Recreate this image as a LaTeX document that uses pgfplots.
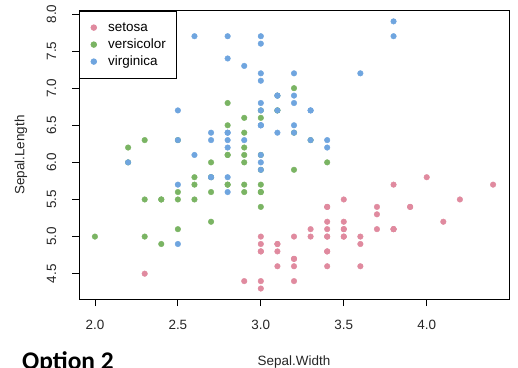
\documentclass[border=0pt]{standalone}
\usepackage{pgfplots}
\pgfplotsset{compat=1.18}
\usepackage{fontspec}
\setmainfont{Liberation Sans}
\newfontfamily\optfont{Carlito}
\definecolor{cset}{HTML}{E08A9F}
\definecolor{cver}{HTML}{7AB463}
\definecolor{cvir}{HTML}{6FA5DF}
\begin{document}
\begin{tikzpicture}[x=1bp,y=1bp]
\useasboundingbox (0,0) rectangle (518,367);
\clip (0,0) rectangle (518,367);
\fill[white] (0,0) rectangle (518,367);
\begin{axis}[
  at={(79bp,67.8bp)}, anchor=south west,
  scale only axis, width=430bp, height=288.5bp,
  xmin=1.904, xmax=4.496, ymin=4.156, ymax=8.044,
  axis line style={black, line width=0.8bp},
  xtick={2.0,2.5,3.0,3.5,4.0},
  ytick={4.5,5.0,5.5,6.0,6.5,7.0,7.5,8.0},
  xtick pos=left, ytick pos=left, tick align=outside,
  major tick length=7bp,
  tick style={black, line width=0.8bp},
  /pgf/number format/assume math mode=true,
  /pgf/number format/.cd, fixed, fixed zerofill, precision=1, /pgfplots/.cd,
  ticklabel style={font=\fontsize{13.5}{16}\selectfont, color=black!85},
  xticklabel style={anchor=base},
  xticklabel shift=23bp,
  yticklabel style={rotate=90, anchor=base},
  yticklabel shift=16bp,
  legend style={at={(0,1)}, anchor=north west, draw=black, line width=0.8bp,
    inner xsep=11bp, inner ysep=8bp, column sep=11bp,
    font=\fontsize{13.5}{16}\selectfont,
    nodes={inner sep=0pt, text height=12bp, text depth=5bp, anchor=west}},
  legend cell align=left,
  legend image code/.code={\path (0,0) rectangle (6bp,0); \fill (3bp,0) circle (2.8bp);},
]
\addplot[only marks, mark=*, mark size=2.8bp, color=cset, mark options={draw=none, fill=cset}] coordinates {
(3.5,5.1)(3.0,4.9)(3.2,4.7)(3.1,4.6)(3.6,5.0)(3.9,5.4)(3.4,4.6)(3.4,5.0)(2.9,4.4)(3.1,4.9)
(3.7,5.4)(3.4,4.8)(3.0,4.8)(3.0,4.3)(4.0,5.8)(4.4,5.7)(3.9,5.4)(3.5,5.1)(3.8,5.7)(3.8,5.1)
(3.4,5.4)(3.7,5.1)(3.6,4.6)(3.3,5.1)(3.4,4.8)(3.0,5.0)(3.4,5.0)(3.5,5.2)(3.4,5.2)(3.2,4.7)
(3.1,4.8)(3.4,5.4)(4.1,5.2)(4.2,5.5)(3.1,4.9)(3.2,5.0)(3.5,5.5)(3.6,4.9)(3.0,4.4)(3.4,5.1)
(3.5,5.0)(2.3,4.5)(3.2,4.4)(3.5,5.0)(3.8,5.1)(3.0,4.8)(3.8,5.1)(3.2,4.6)(3.7,5.3)(3.3,5.0)
};
\addlegendentry{setosa}
\addplot[only marks, mark=*, mark size=2.8bp, color=cver, mark options={draw=none, fill=cver}] coordinates {
(3.2,7.0)(3.2,6.4)(3.1,6.9)(2.3,5.5)(2.8,6.5)(2.8,5.7)(3.3,6.3)(2.4,4.9)(2.9,6.6)(2.7,5.2)
(2.0,5.0)(3.0,5.9)(2.2,6.0)(2.9,6.1)(2.9,5.6)(3.1,6.7)(3.0,5.6)(2.7,5.8)(2.2,6.2)(2.5,5.6)
(3.2,5.9)(2.8,6.1)(2.5,6.3)(2.8,6.1)(2.9,6.4)(3.0,6.6)(2.8,6.8)(3.0,6.7)(2.9,6.0)(2.6,5.7)
(2.4,5.5)(2.4,5.5)(2.7,5.8)(2.7,6.0)(3.0,5.4)(3.4,6.0)(3.1,6.7)(2.3,6.3)(3.0,5.6)(2.5,5.5)
(2.6,5.5)(3.0,6.1)(2.6,5.8)(2.3,5.0)(2.7,5.6)(3.0,5.7)(2.9,5.7)(2.9,6.2)(2.5,5.1)(2.8,5.7)
};
\addlegendentry{versicolor}
\addplot[only marks, mark=*, mark size=2.8bp, color=cvir, mark options={draw=none, fill=cvir}] coordinates {
(3.3,6.3)(2.7,5.8)(3.0,7.1)(2.9,6.3)(3.0,6.5)(3.0,7.6)(2.5,4.9)(2.9,7.3)(2.5,6.7)(3.6,7.2)
(3.2,6.5)(2.7,6.4)(3.0,6.8)(2.5,5.7)(2.8,5.8)(3.2,6.4)(3.0,6.5)(3.8,7.7)(2.6,7.7)(2.2,6.0)
(3.2,6.9)(2.8,5.6)(2.8,7.7)(2.7,6.3)(3.3,6.7)(3.2,7.2)(2.8,6.2)(3.0,6.1)(2.8,6.4)(3.0,7.2)
(2.8,7.4)(3.8,7.9)(2.8,6.4)(2.8,6.3)(2.6,6.1)(3.0,7.7)(3.4,6.3)(3.1,6.4)(3.0,6.0)(3.1,6.9)
(3.1,6.7)(3.1,6.9)(2.7,5.8)(3.2,6.8)(3.3,6.7)(3.0,6.7)(2.5,6.3)(3.0,6.5)(3.4,6.2)(3.0,5.9)
};
\addlegendentry{virginica}
\end{axis}
\node[rotate=90, font=\fontsize{13.5}{16}\selectfont, color=black!85] at (21,212) {Sepal.Length};
\node[anchor=base, font=\fontsize{13.5}{16}\selectfont, color=black!85] at (294,2) {Sepal.Width};
\node[anchor=base west, inner sep=0pt, font=\optfont\bfseries\fontsize{25.5}{30}\selectfont] at (22,-2.5) {Option 2};
\end{tikzpicture}
\end{document}
